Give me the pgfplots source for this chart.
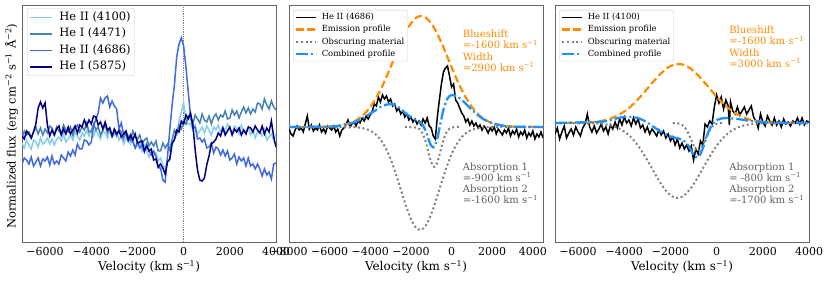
\documentclass[border=0pt]{standalone}
\usepackage{pgfplots}
\pgfplotsset{compat=1.18}
\usepackage{pgfplotstable}
\usepackage{fontspec}
\setmainfont{DejaVu Serif}
\definecolor{skyb}{HTML}{87CEEB}
\definecolor{steelb}{HTML}{4682B4}
\definecolor{royalb}{HTML}{4169E1}
\definecolor{navyb}{HTML}{000080}
\definecolor{dorange}{HTML}{FF8C00}
\definecolor{dodger}{HTML}{1E90FF}
\definecolor{mgray}{HTML}{808080}
\definecolor{dgray}{HTML}{606060}
\newcommand{\spr}[1]{\textsuperscript{#1}}

\pgfplotstableread{
v a b c d
-7000 99 104 78 106
-6900 94 111 84 103
-6800 102 107 82 111
-6700 97 110 78 108
-6600 93 104 85 104
-6500 102 110 76 110
-6400 100 115 80 118
-6300 95 108 84 134
-6200 104 114 76 140
-6100 98 107 83 134
-6000 100 113 81 139
-5900 104 109 85 117
-5800 98 116 77 106
-5700 103 114 86 112
-5600 97 107 78 107
-5500 103 115 81 113
-5400 105 111 78 116
-5300 101 108 87 107
-5200 108 117 84 113
-5100 100 112 81 108
-5000 103 110 90 115
-4900 107 115 86 108
-4800 102 107 92 112
-4700 110 114 87 116
-4600 106 117 98 109
-4500 102 110 93 117
-4400 109 115 93 115
-4300 106 112 102 122
-4200 112 119 101 116
-4100 106 110 97 122
-4000 111 111 100 118
-3900 106 118 116 126
-3800 113 112 123 125
-3700 107 115 129 117
-3600 103 107 144 120
-3500 111 112 139 113
-3400 109 117 144 120
-3300 104 109 146 112
-3200 112 114 135 114
-3100 105 106 141 106
-3000 107 111 136 113
-2900 110 106 133 108
-2800 102 113 113 111
-2700 106 110 119 105
-2600 98 103 108 108
-2500 103 110 108 111
-2400 104 106 101 102
-2300 98 102 106 107
-2200 104 111 100 102
-2100 94 105 94 108
-2000 96 103 100 99
-1900 99 107 94 100
-1800 91 98 97 101
-1700 97 102 90 91
-1600 91 104 98 96
-1500 85 96 91 91
-1400 90 100 87 93
-1300 86 96 91 82
-1200 89 101 86 83
-1100 81 91 74 75
-1000 84 91 74 78
-900 77 99 62 74
-800 74 94 60 68
-700 81 98 85 80
-600 82 92 112 83
-500 96 102 137 99
-400 104 112 157 102
-300 107 108 185 112
-200 121 117 198 110
-100 130 113 204 121
0 139 121 196 118
100 122 118 175 127
200 118 126 150 123
300 118 124 125 129
400 112 118 114 117
500 117 127 115 92
600 108 123 103 72
700 111 119 104 62
800 115 128 100 61
900 109 122 103 64
1000 116 120 94 77
1100 112 126 95 86
1200 107 118 99 98
1300 115 125 89 100
1400 112 128 95 103
1500 117 122 93 109
1600 110 127 87 106
1700 115 125 92 114
1800 111 131 86 107
1900 118 123 91 111
2000 113 124 82 115
2100 109 132 84 107
2200 116 127 88 113
2300 114 131 78 110
2400 108 124 85 114
2500 117 130 81 107
2600 110 135 84 112
2700 111 129 76 108
2800 115 134 84 115
2900 107 128 76 114
3000 112 133 78 110
3100 104 130 73 116
3200 110 139 78 112
3300 111 138 73 109
3400 106 133 66 116
3500 112 143 73 108
3600 102 137 67 114
3700 105 133 70 110
3800 108 141 63 121
3900 102 135 78 105
4000 108 132 79 95
}\panelA

\pgfplotstableread{
v h
-8000 113
-7900 108
-7800 106
-7700 112
-7600 116
-7500 112
-7400 114
-7300 110
-7200 118
-7100 126
-7000 113
-6900 117
-6800 111
-6700 114
-6600 112
-6500 117
-6400 110
-6300 113
-6200 109
-6100 116
-6000 114
-5900 112
-5800 116
-5700 110
-5600 113
-5500 106
-5400 112
-5300 114
-5200 117
-5100 122
-5000 115
-4900 118
-4800 120
-4700 116
-4600 121
-4500 119
-4400 124
-4300 121
-4200 126
-4100 123
-4000 127
-3900 131
-3800 138
-3700 136
-3600 145
-3500 140
-3400 147
-3300 143
-3200 146
-3100 140
-3000 143
-2900 136
-2800 138
-2700 131
-2600 134
-2500 128
-2400 131
-2300 125
-2200 128
-2100 122
-2000 125
-1900 120
-1800 123
-1700 118
-1600 121
-1500 117
-1400 123
-1300 119
-1200 124
-1100 116
-1000 114
-900 106
-800 103
-700 125
-600 142
-500 158
-400 170
-300 174
-200 176
-100 166
0 155
100 158
200 142
300 139
400 134
500 129
600 126
700 120
800 123
900 117
1000 121
1100 116
1200 119
1300 114
1400 117
1500 112
1600 116
1700 113
1800 109
1900 114
2000 111
2100 115
2200 108
2300 113
2400 110
2500 107
2600 112
2700 109
2800 114
2900 106
3000 111
3100 108
3200 113
3300 105
3400 110
3500 107
3600 112
3700 104
3800 109
3900 106
4000 111
4100 103
4200 108
4300 105
4400 110
4500 104
}\specB

\pgfplotstableread{
v h
-8000 115
-6000 115.4
-5500 116.4
-5000 118.9
-4750 121.1
-4500 124.4
-4250 128.9
-4000 135
-3750 142.7
-3500 152.1
-3250 162.9
-3000 174.9
-2750 187.3
-2500 199.4
-2250 210.1
-2000 218.6
-1750 224.1
-1500 226
-1250 224.1
-1000 218.6
-750 210.1
-500 199.4
-250 187.3
0 174.9
250 162.9
500 152.1
750 142.7
1000 135
1250 128.9
1500 124.4
1750 121.1
2000 118.9
2500 116.4
3000 115.4
3500 115
4500 115
}\emB

\pgfplotstableread{
v h
-8000 115
-5000 114.9
-4500 114.2
-4250 113.2
-4000 111.3
-3750 107.9
-3500 102.5
-3250 94.2
-3000 82.9
-2750 68.6
-2500 52.5
-2250 36.5
-2000 22.9
-1750 14.3
-1500 12.1
-1250 17
-1000 27.9
-750 42.8
-500 59.1
-250 74.6
0 87.8
250 97.9
500 105
750 109.5
1000 112.2
1500 114.4
2000 115
4500 115
}\abBtwo

\pgfplotstableread{
v h
-2300 115
-1700 114.3
-1500 111.2
-1400 107.5
-1300 102
-1200 94.7
-1100 86.7
-1000 79.7
-900 75.6
-850 75
-800 75.6
-700 79.7
-600 86.7
-500 94.7
-400 102
-300 107.5
-200 111.2
-100 113.2
0 114.3
200 115
400 115
}\abBone

\pgfplotstableread{
v h
-8000 115
-6000 115.4
-5500 116.4
-5000 118.5
-4750 120
-4500 122.3
-4250 125
-4000 128.5
-3750 131.5
-3500 135
-3250 137
-3000 138
-2750 136.5
-2500 133
-2250 128.5
-2000 124.5
-1750 122
-1500 119
-1400 116.5
-1300 112.3
-1200 106.8
-1100 100.8
-1000 96.2
-900 94.7
-800 97.2
-700 103.8
-600 113.1
-500 123.2
-400 132.1
-300 139
-200 143.5
-100 145.9
0 147
250 145.8
500 142.1
750 137.2
1000 132.2
1250 127.6
1500 123.8
1750 120.9
2000 118.8
2500 116.4
3000 115.4
4500 115
}\coB

\pgfplotstableread{
v h
-7000 108
-6900 114
-6800 103
-6700 110
-6600 116
-6500 104
-6400 109
-6300 113
-6200 107
-6100 115
-6000 110
-5900 106
-5800 114
-5700 118
-5600 128
-5500 115
-5400 110
-5300 116
-5200 109
-5100 113
-5000 118
-4900 111
-4800 115
-4700 108
-4600 117
-4500 113
-4400 120
-4300 114
-4200 123
-4100 117
-4000 125
-3900 119
-3800 122
-3700 116
-3600 124
-3500 118
-3400 123
-3300 114
-3200 117
-3100 110
-3000 115
-2900 108
-2800 113
-2700 110
-2600 106
-2500 112
-2400 107
-2300 111
-2200 104
-2100 108
-2000 101
-1900 105
-1800 97
-1700 103
-1600 94
-1500 99
-1400 93
-1300 97
-1200 91
-1100 96
-1000 82
-900 93
-800 88
-700 101
-600 97
-500 118
-400 115
-300 121
-200 118
-100 135
0 147
100 139
200 145
300 133
400 142
500 136
550 117
600 140
700 131
800 128
900 135
1000 127
1100 131
1200 135
1300 128
1400 132
1500 136
1600 125
1700 121
1800 114
1900 128
2000 120
2100 116
2200 126
2300 121
2400 117
2500 124
2600 117
2700 121
2800 115
2900 123
3000 118
3100 120
3200 116
3300 121
3400 119
3500 124
3600 118
3700 124
3800 117
3900 121
4000 120
}\specC

\pgfplotstableread{
v h
-7000 119
-5500 119.7
-5000 121.1
-4750 122.4
-4500 124.3
-4250 127
-4000 130.5
-3750 135
-3500 140.4
-3250 146.7
-3000 153.4
-2750 160.2
-2500 166.6
-2250 172
-2000 175.9
-1750 177.8
-1500 177.6
-1250 175.3
-1000 171
-750 165.4
-500 158.9
-250 152
0 145.4
250 139.3
500 134
750 129.7
1000 126.4
1250 123.9
1500 122.1
2000 120.1
2500 119.4
4000 119
}\emC

\pgfplotstableread{
v h
-7000 119
-5200 118.5
-4950 118
-4700 117.2
-4450 115.7
-4200 113.3
-3950 109.7
-3700 104.6
-3450 97.8
-3200 89.4
-2950 79.7
-2700 69.4
-2450 59.6
-2200 51.4
-1950 45.9
-1700 44
-1450 45.9
-1200 51.4
-950 59.6
-700 69.4
-450 79.7
-200 89.4
50 97.8
300 104.6
550 109.7
800 113.3
1050 115.7
1300 117.2
1550 118
1800 118.5
4000 119
}\abCtwo

\pgfplotstableread{
v h
-1900 119
-1800 118.9
-1700 118.7
-1600 118.2
-1500 117.2
-1400 115.2
-1300 112
-1200 107.5
-1100 102
-1000 96.6
-900 92.5
-800 91
-700 92.5
-600 96.6
-500 102
-400 107.5
-300 112
-200 115.2
-100 117.2
0 118.2
100 118.7
200 118.9
300 119
}\abCone

\pgfplotstableread{
v h
-7000 119
-5000 120.3
-4500 122.5
-4250 124
-4000 125
-3750 125
-3500 124.5
-3250 122.5
-3000 119.5
-2750 115.5
-2500 111.5
-2250 108
-2000 105.5
-1750 104
-1500 102.5
-1300 98.7
-1200 95.5
-1100 91.3
-1000 87.3
-900 84.9
-800 84.9
-700 88.1
-600 93.7
-500 100.5
-400 107.4
-300 113
-200 117.3
-100 120.2
0 121.9
250 123.7
500 123.9
750 123.4
1000 122.7
1250 121.8
1500 121
2000 119.8
2500 119.4
4000 119
}\coC

\pgfplotsset{
  panel/.style={
    anchor=south west, scale only axis, width=254pt, height=237pt,
    ymin=0, ymax=237, ytick=\empty,
    axis line style={draw=black!60, line width=0.9pt},
    major tick length=0pt,
    tick label style={font=\fontsize{11}{13}\selectfont},
    xticklabel style={yshift=-2pt},
    xlabel={Velocity (km s\spr{−1})},
    xlabel style={font=\fontsize{12}{14}\selectfont, at={(axis description cs:0.5,-0.122)}, anchor=base},
    legend cell align=left,
  },
  biglegend/.style={
    legend style={at={(0.02,0.987)}, anchor=north west,
      font=\fontsize{11.5}{13}\selectfont, draw=black!20, rounded corners=2pt, fill=white,
      inner xsep=2pt, inner ysep=2pt, row sep=2.5pt,
      nodes={inner sep=1.5pt, text height=8.5pt, text depth=2.5pt},
      /tikz/every odd column/.append style={column sep=5pt}},
    legend image code/.code={\draw[##1] (0pt,0pt) -- (22pt,0pt);},
  },
  smalllegend/.style={
    legend style={at={(0.016,0.979)}, anchor=north west,
      font=\fontsize{8.4}{10}\selectfont, draw=black!20, rounded corners=2pt, fill=white,
      inner xsep=2pt, inner ysep=1.5pt, row sep=1pt,
      nodes={inner sep=1.2pt, text height=6.8pt, text depth=2pt},
      /tikz/every odd column/.append style={column sep=3pt}},
    legend image code/.code={\draw[##1] (0pt,0pt) -- (20pt,0pt);},
  },
  orangeline/.style={dorange, line width=2.2pt, dash pattern=on 7.5pt off 3.5pt},
  grayline/.style={mgray, line width=2pt, dash pattern=on 2pt off 2.6pt},
  blueline/.style={dodger, line width=2.3pt, dash pattern=on 12pt off 3pt on 2pt off 3pt},
}

\begin{document}
\begin{tikzpicture}
\path[use as bounding box] (0pt,0pt) rectangle (830pt,281pt);

% Panel 1
\begin{axis}[panel, biglegend, at={(22pt,39pt)}, xmin=-7000, xmax=4000,
  xtick={-6000,-4000,-2000,0,2000,4000},
  xticklabels={−6000,−4000,−2000,0,2000,4000},
  ylabel={Normalized flux (erg cm\spr{−2} s\spr{−1} Å\spr{−2})},
  ylabel style={font=\fontsize{11.5}{13}\selectfont, at={(axis description cs:-0.025,0.489)}, anchor=base},
]
\addplot[mgray, densely dotted, line width=0.8pt, forget plot] coordinates {(0,0) (0,237)};
\addplot[skyb, line width=1.5pt] table[x=v,y=a]{\panelA};
\addlegendentry{He II (4100)}
\addplot[steelb, line width=1.5pt] table[x=v,y=b]{\panelA};
\addlegendentry{He I (4471)}
\addplot[royalb, line width=1.5pt] table[x=v,y=c]{\panelA};
\addlegendentry{He II (4686)}
\addplot[navyb, line width=1.5pt] table[x=v,y=d]{\panelA};
\addlegendentry{He I (5875)}
\end{axis}

% Panel 2
\begin{axis}[panel, smalllegend, at={(289pt,39pt)}, xmin=-8000, xmax=4500,
  xtick={-8000,-6000,-4000,-2000,0,2000,4000},
  xticklabels={−8000,−6000,−4000,−2000,0,2000,4000},
]
\addplot[black, line width=1.5pt] table[x=v,y=h]{\specB};
\addlegendentry{He II (4686)}
\addplot[orangeline, smooth] table[x=v,y=h]{\emB};
\addlegendentry{Emission profile}
\addplot[grayline, smooth] table[x=v,y=h]{\abBtwo};
\addlegendentry{Obscuring material}
\addplot[grayline, smooth, forget plot] table[x=v,y=h]{\abBone};
\addplot[blueline, smooth] table[x=v,y=h]{\coB};
\addlegendentry{Combined profile}
\node[anchor=north west, align=left, text=dorange, inner sep=0pt,
  font=\fontsize{10}{11.2}\selectfont] at (axis cs:550,212)
  {Blueshift\\=-1600 km s\spr{−1}\\Width\\=2900 km s\spr{−1}};
\node[anchor=north west, align=left, text=dgray, inner sep=0pt,
  font=\fontsize{10}{11.2}\selectfont] at (axis cs:550,79.5)
  {Absorption 1\\=-900 km s\spr{−1}\\Absorption 2\\=-1600 km s\spr{−1}};
\end{axis}

% Panel 3
\begin{axis}[panel, smalllegend, at={(555pt,39pt)}, xmin=-7000, xmax=4000,
  xtick={-6000,-4000,-2000,0,2000,4000},
  xticklabels={−6000,−4000,−2000,0,2000,4000},
]
\addplot[black, line width=1.5pt] table[x=v,y=h]{\specC};
\addlegendentry{He II (4100)}
\addplot[orangeline, smooth] table[x=v,y=h]{\emC};
\addlegendentry{Emission profile}
\addplot[grayline, smooth] table[x=v,y=h]{\abCtwo};
\addlegendentry{Obscuring material}
\addplot[grayline, smooth, forget plot] table[x=v,y=h]{\abCone};
\addplot[blueline, smooth] table[x=v,y=h]{\coC};
\addlegendentry{Combined profile}
\node[anchor=north west, align=left, text=dorange, inner sep=0pt,
  font=\fontsize{10}{11.2}\selectfont] at (axis cs:540,216)
  {Blueshift\\=-1600 km s\spr{−1}\\Width\\=3000 km s\spr{−1}};
\node[anchor=north west, align=left, text=dgray, inner sep=0pt,
  font=\fontsize{10}{11.2}\selectfont] at (axis cs:540,79.5)
  {Absorption 1\\= -800 km s\spr{−1}\\Absorption 2\\=-1700 km s\spr{−1}};
\end{axis}
\end{tikzpicture}
\end{document}
